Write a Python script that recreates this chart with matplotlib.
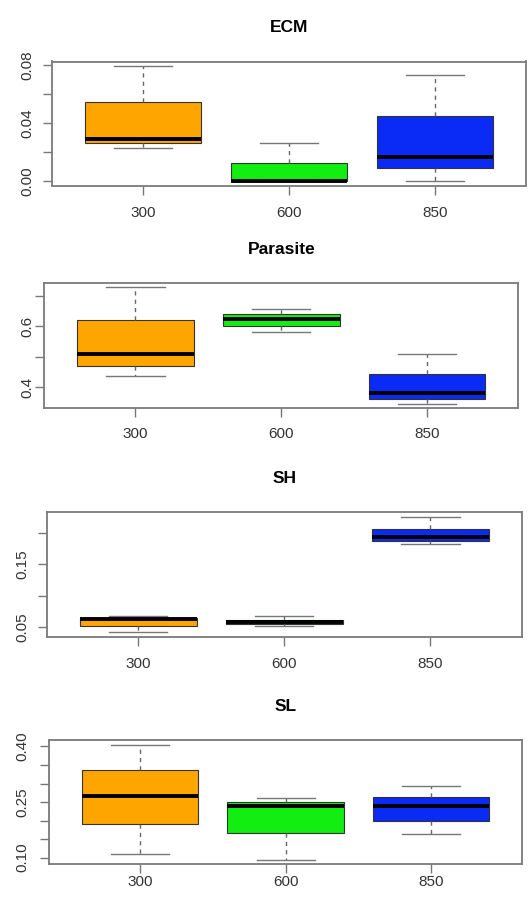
import matplotlib
matplotlib.use('Agg')
import matplotlib.pyplot as plt

plt.rcParams['font.family'] = ['Liberation Sans', 'DejaVu Sans']

# elevation groups and their fill colours
groups = ['300', '600', '850']
box_colours = ['#ffa500', '#12ee12', '#0a2af5']

# five-number summaries per group: lower whisker, Q1, median, Q3, upper whisker
ecm_lo = [0.0225, 0.0, 0.0]
ecm_q1 = [0.0262, 0.0, 0.0088]
ecm_med = [0.0292, 0.0, 0.0169]
ecm_q3 = [0.0547, 0.0125, 0.0447]
ecm_hi = [0.0795, 0.0264, 0.0733]

par_lo = [0.437, 0.580, 0.347]
par_q1 = [0.471, 0.600, 0.361]
par_med = [0.508, 0.622, 0.383]
par_q3 = [0.620, 0.639, 0.444]
par_hi = [0.727, 0.656, 0.509]

sh_lo = [0.0426, 0.0517, 0.182]
sh_q1 = [0.0520, 0.0549, 0.1867]
sh_med = [0.0627, 0.0580, 0.194]
sh_q3 = [0.0653, 0.0623, 0.2068]
sh_hi = [0.0674, 0.0687, 0.2258]

sl_lo = [0.1106, 0.0944, 0.1643]
sl_q1 = [0.1894, 0.1670, 0.1993]
sl_med = [0.2674, 0.2405, 0.2380]
sl_q3 = [0.3355, 0.2500, 0.2647]
sl_hi = [0.4050, 0.2620, 0.2925]

# y ticks, and which of them get a label
ecm_ticks = [0.00, 0.02, 0.04, 0.06, 0.08]
ecm_labels = ['0.00', '', '0.04', '', '0.08']
par_ticks = [0.4, 0.5, 0.6, 0.7]
par_labels = ['0.4', '', '0.6', '']
sh_ticks = [0.05, 0.10, 0.15, 0.20]
sh_labels = ['0.05', '', '0.15', '']
sl_ticks = [0.10, 0.15, 0.20, 0.25, 0.30, 0.35, 0.40]
sl_labels = ['0.10', '', '', '0.25', '', '', '0.40']

W, H = 528, 902

# title, data, ticks, axes box in pixels (left, top, right, bottom), x label pad, y label pad
panels = [
    ('ECM', (ecm_lo, ecm_q1, ecm_med, ecm_q3, ecm_hi), ecm_ticks, ecm_labels,
     (52, 61.5, 526, 185.5), 8.6, 6.5),
    ('Parasite', (par_lo, par_q1, par_med, par_q3, par_hi), par_ticks, par_labels,
     (44.3, 282.7, 518.3, 408.3), 7.2, 0.5),
    ('SH', (sh_lo, sh_q1, sh_med, sh_q3, sh_hi), sh_ticks, sh_labels,
     (46.7, 512.3, 521.7, 636.5), 8.0, 6.0),
    ('SL', (sl_lo, sl_q1, sl_med, sl_q3, sl_hi), sl_ticks, sl_labels,
     (49.3, 740, 522, 864.3), 1.5, 7.5),
]

fig = plt.figure(figsize=(W / 100, H / 100), dpi=100)

for title, summ, yticks, ylabels, (l, t, r, b), xpad, ypad in panels:
    ax = fig.add_axes([l / W, 1 - b / H, (r - l) / W, (b - t) / H])
    lo, q1, med, q3, hi = summ
    stats = []
    for i in range(len(groups)):
        stats.append(dict(whislo=lo[i], q1=q1[i], med=med[i], q3=q3[i],
                          whishi=hi[i], fliers=[]))
    bp = ax.bxp(stats, positions=[1, 2, 3], widths=0.8, capwidths=0.4,
                patch_artist=True, showfliers=False,
                boxprops=dict(edgecolor='#333333', linewidth=0.8),
                whiskerprops=dict(color='#666666', linewidth=1.0, linestyle=(0, (3, 3))),
                capprops=dict(color='#777777', linewidth=1.0),
                medianprops=dict(color='black', linewidth=2.8, solid_capstyle='butt'))
    for patch, colour in zip(bp['boxes'], box_colours):
        patch.set_facecolor(colour)

    # R style range: data extent padded by 4 %
    ymin, ymax = min(lo), max(hi)
    span = ymax - ymin
    ax.set_ylim(ymin - 0.04 * span, ymax + 0.04 * span)
    ax.set_xlim(0.375, 3.625)

    ax.set_xticks([1, 2, 3])
    ax.set_xticklabels(groups)
    ax.set_yticks(yticks)
    ax.set_yticklabels(ylabels, rotation=90, va='center')

    ax.tick_params(axis='x', length=6.5, width=1.0, color='#777777',
                   labelsize=11, labelcolor='#333333', pad=xpad)
    ax.tick_params(axis='y', length=6.5, width=1.0, color='#777777',
                   labelsize=11, labelcolor='#333333', pad=ypad)
    for sp in ax.spines.values():
        sp.set_color('#7a7a7a')
        sp.set_linewidth(1.3)

    ax.set_title(title, fontsize=12.5, fontweight='bold', pad=21)

fig.savefig('out.png', dpi=100)
